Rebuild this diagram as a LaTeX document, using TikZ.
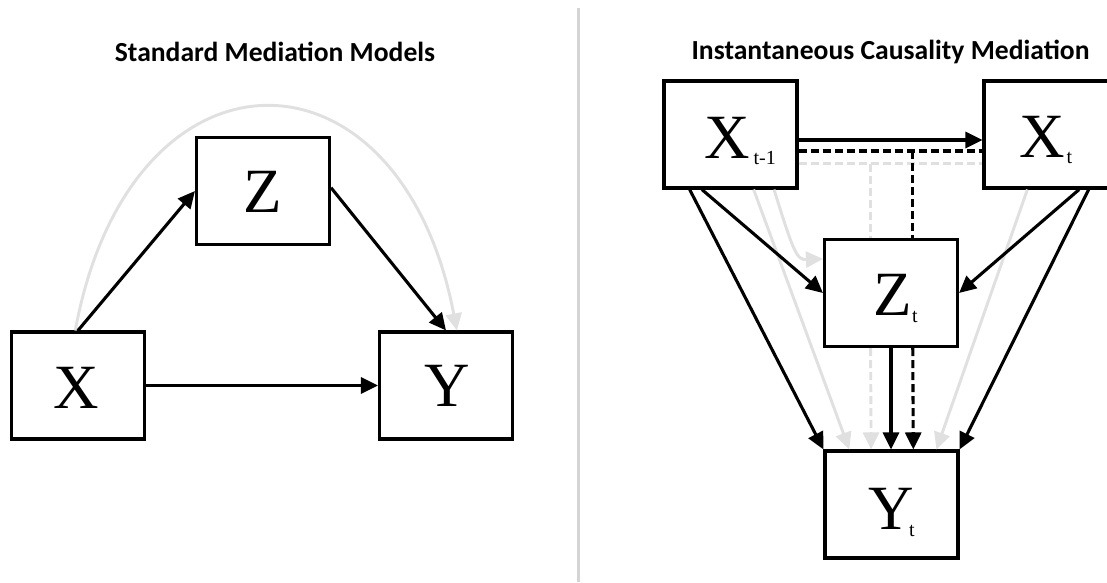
\documentclass[tikz,border=0pt]{standalone}
\usepackage{fontspec}
\newfontfamily\serifbox{Liberation Serif}
\newfontfamily\headfont{Carlito}
\usetikzlibrary{arrows.meta,calc}

\definecolor{ghostgray}{RGB}{224,224,224}
\definecolor{divgray}{RGB}{212,212,212}

\tikzset{
  var/.style={draw=black, line width=3.1pt, minimum width=133pt, minimum height=107pt, inner sep=0pt},
  letter/.style={font=\serifbox\fontsize{63}{63}\selectfont, inner sep=0pt},
  subs/.style={font=\serifbox\fontsize{20}{20}\selectfont, inner sep=0pt, anchor=base west},
  plainline/.style={line width=3.1pt, draw=black},
  link/.style={plainline, -{Triangle[length=17pt,width=16pt]}},
  ghostline/.style={line width=2.9pt, draw=ghostgray},
  ghost/.style={ghostline, -{Triangle[length=17pt,width=16pt]}},
  dashpat/.style={dash pattern=on 8pt off 4pt},
  headline/.style={font=\headfont\bfseries\fontsize{27.6}{27.6}\selectfont, inner sep=0pt},
}

\begin{document}
\begin{tikzpicture}[x=1pt,y=-1pt]
\useasboundingbox (0,0) rectangle (1107,582);
\fill[white] (0,0) rectangle (1107,582);

% panel headings
\node[headline] (h1) at (275,52) {Standard Mediation Models};
\node[headline] (h2) at (890.5,52) {Instantaneous Causality Mediation};

% separator between the two panels
\coordinate (d1) at (578,8);
\coordinate (d2) at (578,582);
\draw[draw=divgray, line width=3pt] (d1) -- (d2);

% ---------- left panel: standard mediation ----------
\node[var] (X) at (78,385.5) {};
\node[var] (Z) at (263,191) {};
\node[var] (Y) at (446,385.5) {};

\node[letter] (lX) at (76.5,387.5) {X};
\node[letter] (lZ) at (263,191.5) {Z};
\node[letter] (lY) at (447,386) {Y};

\draw[ghost] ($(X.north west)!0.48!(X.north east)$) .. controls (130,33) and (400,33) .. ($(Y.north west)!0.58!(Y.north east)$);
\draw[link] (X.north) -- (Z.west);
\draw[link] ($(Z.north east)!0.47!(Z.south east)$) -- (Y.north);
\draw[link] (X.east) -- (Y.west);

% ---------- right panel: instantaneous causality ----------
\node[var] (Xp) at (730.5,134.5) {};
\node[var] (Xt) at (1050.5,134.5) {};
\node[var] (Zt) at (891,293) {};
\node[var] (Yt) at (891.5,504.5) {};

\node[letter] (lXp) at (727.5,137.5) {X};
\node[subs] (sXp) at ([xshift=3pt,yshift=-6pt]lXp.base east) {t-1};
\node[letter] (lXt) at (1042.5,136.5) {X};
\node[subs] (sXt) at ([xshift=1pt,yshift=-6pt]lXt.base east) {t};
\node[letter] (lZt) at (892.5,295) {Z};
\node[subs] (sZt) at ([xshift=0pt,yshift=-7pt]lZt.base east) {t};
\node[letter] (lYt) at (891,508.5) {Y};
\node[subs] (sYt) at ([xshift=-5pt,yshift=-7pt]lYt.base east) {t};

% light grey paths (behind)
\draw[ghost] ($(Xp.south west)!0.82!(Xp.south east)$) .. controls (794,254) and (797,260) .. ($(Zt.north west)!0.19!(Zt.south west)$);
\draw[ghost] ($(Xp.south west)!0.67!(Xp.south east)$) -- ($(Yt.north west)!0.19!(Yt.north east)$);
\draw[ghost] ($(Xt.south west)!0.33!(Xt.south east)$) -- ($(Yt.north west)!0.83!(Yt.north east)$);

\coordinate (gL) at ($(Xp.north east)!0.766!(Xp.south east)$);
\coordinate (gTop) at ($(Zt.north west)!0.35!(Zt.north east)$);
\draw[ghostline, dashpat] (gL) -- (gL -| Xt.west);
\draw[ghostline, dashpat] (gTop |- gL) -- (gTop);
\draw[ghost, dashpat] ($(Zt.south west)!0.35!(Zt.south east)$) -- ($(Yt.north west)!0.35!(Yt.north east)$);

% black paths
\coordinate (sA) at ($(Xp.north east)!0.55!(Xp.south east)$);
\draw[link] (sA) -- (sA -| Xt.west);

\coordinate (bL) at ($(Xp.north east)!0.65!(Xp.south east)$);
\coordinate (bTop) at ($(Zt.north west)!0.66!(Zt.north east)$);
\draw[plainline, dashpat] (bL) -- (bL -| Xt.west);
\draw[plainline, dashpat] (bTop |- bL) -- (bTop);
\draw[link, dashpat] ($(Zt.south west)!0.66!(Zt.south east)$) -- ($(Yt.north west)!0.66!(Yt.north east)$);
\draw[link] (Zt.south) -- (Zt.south |- Yt.north);

\draw[link] ($(Xp.south west)!0.2!(Xp.south east)$) -- (Yt.north west);
\draw[link] ($(Xp.south west)!0.29!(Xp.south east)$) -- (Zt.west);
\draw[link] ($(Xt.south west)!0.71!(Xt.south east)$) -- (Zt.east);
\draw[link] ($(Xt.south west)!0.78!(Xt.south east)$) -- (Yt.north east);
\end{tikzpicture}
\end{document}
